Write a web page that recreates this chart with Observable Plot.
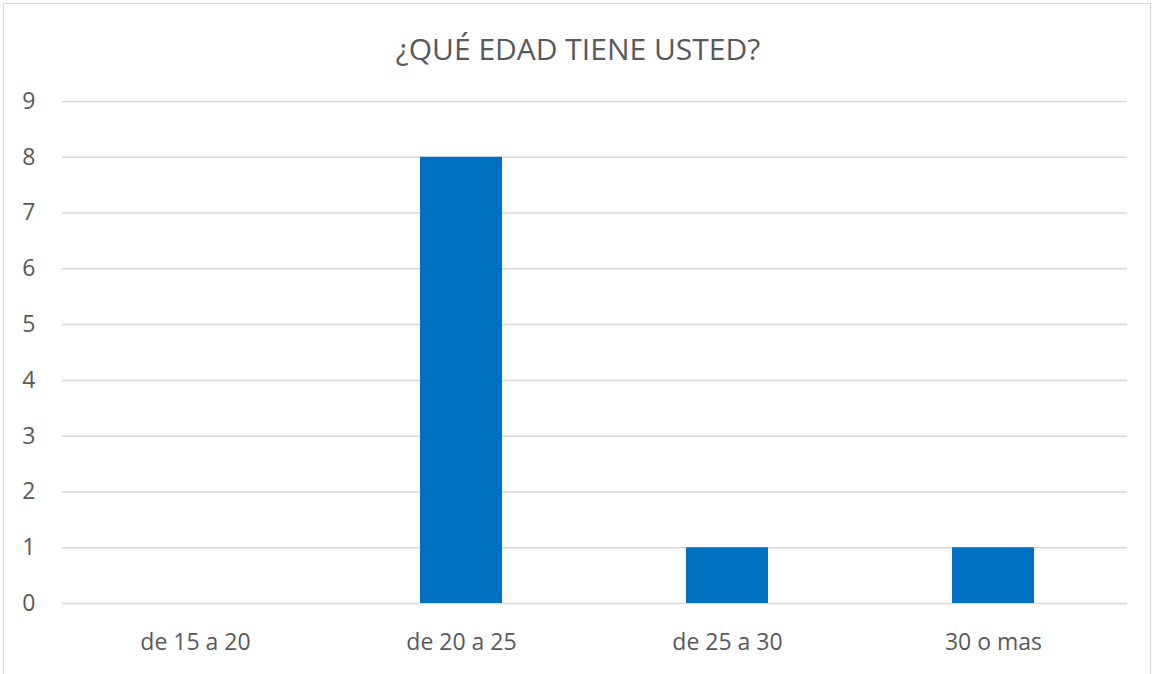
<!DOCTYPE html>
<html>
<head>
<meta charset="utf-8">
<script src="https://cdn.jsdelivr.net/npm/d3@7"></script>
<script src="https://cdn.jsdelivr.net/npm/@observablehq/plot@0.6"></script>
<style>
  html, body { margin: 0; padding: 0; background: #fff; overflow: hidden; }
  #frame { position: absolute; left: 3px; top: 3px; width: 1148px; height: 700px; border: 1.5px solid #d9d9d9; box-sizing: border-box; }
  #title { position: absolute; left: 0; top: 28px; width: 1156px; text-align: center; font-family: "Open Sans", sans-serif; font-size: 30px; line-height: 42px; color: #595959; }
  #chart { position: absolute; left: 0; top: 80px; }
</style>
</head>
<body>
<div id="frame"></div>
<div id="title">¿QUÉ EDAD TIENE USTED?</div>
<div id="chart"></div>
<script>
const categories = ["de 15 a 20", "de 20 a 25", "de 25 a 30", "30 o mas"];
const values = [0, 8, 1, 1];
const yTicks = [0, 1, 2, 3, 4, 5, 6, 7, 8, 9];

const data = categories.map((c, i) => ({category: c, value: values[i]}));

const plot = Plot.plot({
  width: 1156,
  height: 594,
  marginLeft: 62,
  marginRight: 29,
  marginTop: 21,
  marginBottom: 71,
  style: {fontFamily: "'Open Sans', sans-serif", fontSize: "23px", color: "#595959", background: "transparent", overflow: "visible"},
  x: {domain: categories, paddingInner: 0.69, paddingOuter: 0.345, label: null},
  y: {domain: [0, 9], label: null},
  marks: [
    Plot.ruleY(yTicks, {stroke: "#d9d9d9", strokeWidth: 1.5}),
    Plot.barY(data, {x: "category", y: "value", fill: "#0070c0"}),
    Plot.axisY({ticks: yTicks, tickSize: 0, tickPadding: 27, fontSize: 23, fill: "#595959"}),
    Plot.axisX({tickSize: 0, tickPadding: 30, fontSize: 23, fill: "#595959"})
  ]
});
document.getElementById("chart").appendChild(plot);
</script>
</body>
</html>
